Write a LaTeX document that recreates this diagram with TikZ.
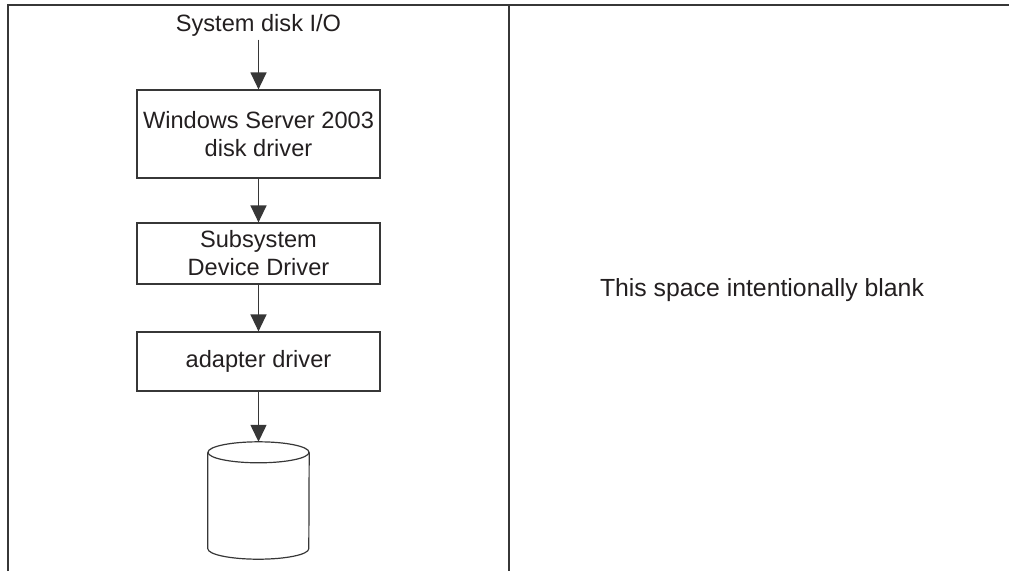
\documentclass[tikz,border=0pt]{standalone}
\usepackage{fontspec}
\setmainfont{Liberation Sans}
\definecolor{LineColor}{RGB}{55,55,55}
\definecolor{TextColor}{RGB}{35,31,32}
\usetikzlibrary{arrows.meta}
\tikzstyle{arrow} = [line width=1.3pt, LineColor, -{Triangle[width=16pt,length=17pt]}]
\tikzstyle{driver} = [rectangle, draw=LineColor, line width=1.2pt, minimum width=243pt, align=center, text=TextColor, font=\fontsize{23.6}{28}\selectfont]
\tikzstyle{cyl} = [draw=LineColor, line width=1.2pt]

\begin{document}
\begin{tikzpicture}[x=1pt, y=-1pt]
            \useasboundingbox (0,0) rectangle (1009,571);

            % Frame
            \draw[LineColor, line width=2pt] (8,571) -- (8,5) -- (1009,5);
            \draw[LineColor, line width=1.6pt] (509,5) -- (509,571);

            % Driver stack
            \node[text=TextColor, font=\fontsize{23.6}{28}\selectfont] (io) at (258.5,25) {System disk I/O};
            \node[driver, minimum height=88pt] (win) at (258.5,134) {Windows Server 2003\\disk driver};
            \node[driver, minimum height=61pt] (sdd) at (258.5,253.5) {Subsystem\\Device Driver};
            \node[driver, minimum height=59pt] (adapter) at (258.5,361.5) {adapter driver};
            \node[minimum width=101pt, minimum height=117pt, inner sep=0pt] (disk) at (258.5,500.5) {};

            % Disk drum
            \draw[cyl] ([yshift=-10.5pt]disk.north) ellipse [x radius=50.5, y radius=10.5];
            \draw[cyl] ([yshift=-10.5pt]disk.north west) -- ([yshift=10.5pt]disk.south west)
                arc[start angle=180, end angle=0, x radius=50.5, y radius=10.5] -- ([yshift=-10.5pt]disk.north east);

            % Connections
            \draw[arrow] (io) -- (win);
            \draw[arrow] (win) -- (sdd);
            \draw[arrow] (sdd) -- (adapter);
            \draw[arrow] (adapter) -- (disk);

            % Right column
            \node[text=TextColor, font=\fontsize{24.8}{30}\selectfont] (blank) at (762,290) {This space intentionally blank};
        \end{tikzpicture}
\end{document}
